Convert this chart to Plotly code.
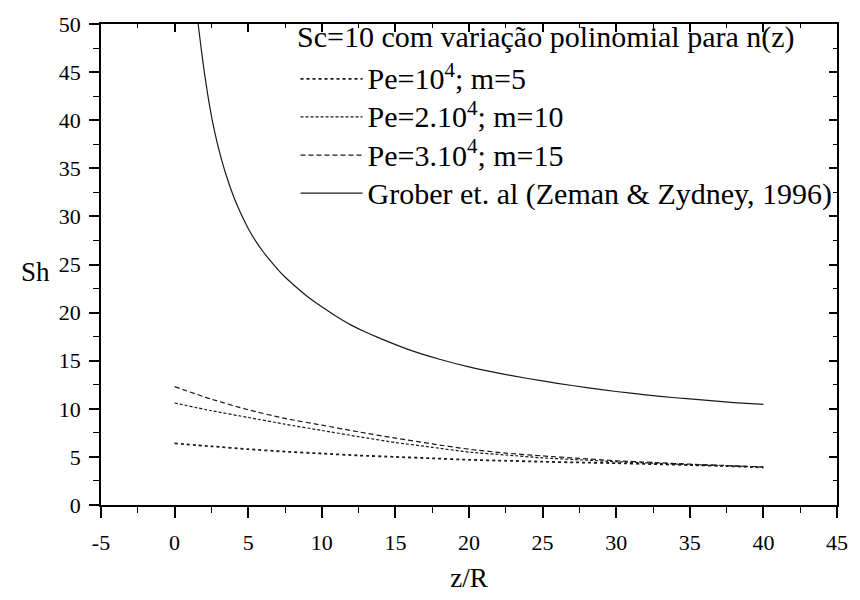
import plotly.graph_objects as go

# z/R positions and Sherwood numbers for the polynomial n(z) cases
z_poly = [0, 2.5, 5, 7.5, 10, 12.5, 15, 17.5, 20, 22.5, 25, 27.5, 30, 32.5, 35, 37.5, 40]
sh_pe1 = [6.4, 6.1, 5.8, 5.55, 5.35, 5.15, 5.0, 4.85, 4.7, 4.6, 4.5, 4.42, 4.35, 4.25, 4.15, 4.05, 3.9]
sh_pe2 = [10.6, 9.8, 9.1, 8.4, 7.75, 7.1, 6.5, 6.0, 5.5, 5.2, 4.9, 4.7, 4.5, 4.35, 4.2, 4.07, 3.95]
sh_pe3 = [12.3, 11.0, 9.9, 9.0, 8.3, 7.6, 6.95, 6.35, 5.8, 5.4, 5.1, 4.85, 4.6, 4.42, 4.25, 4.1, 3.95]

# Grober correlation (Zeman & Zydney, 1996)
z_grober = [1.6, 1.8, 2.0, 2.25, 2.5, 2.75, 3.0, 3.5, 4.0, 4.5, 5.0, 5.5, 6.0, 6.5, 7.0,
            7.5, 8, 9, 10, 11, 12, 13, 14, 16, 18, 20, 22, 24, 26, 28, 30, 32, 34, 36, 38, 40]
sh_grober = [50.0, 47.5, 45.2, 42.65, 40.45, 38.6, 37.0, 34.3, 32.1, 30.3, 28.75, 27.45,
             26.35, 25.4, 24.5, 23.7, 23.0, 21.7, 20.6, 19.6, 18.7, 17.95, 17.3, 16.1,
             15.15, 14.35, 13.7, 13.15, 12.65, 12.2, 11.8, 11.45, 11.15, 10.9, 10.65, 10.45]

x_ticks = [-5, 0, 5, 10, 15, 20, 25, 30, 35, 40, 45]
x_tick_text = ["-5", "0", "5", "10", "15", "20", "25", "30", "35", "40", "45"]

legend_title = "Sc=10 com variação polinomial para n(z)"
names = ["Pe=10<sup>4</sup>; m=5", "Pe=2.10<sup>4</sup>; m=10",
         "Pe=3.10<sup>4</sup>; m=15", "Grober et. al (Zeman &amp; Zydney, 1996)"]

FONT = "Liberation Serif, Times New Roman, serif"
INK = "#1a1a1a"
LEGEND_PX = 30

fig = go.Figure()
series = [
    (z_poly, sh_pe1, "dot", 1.8),
    (z_poly, sh_pe2, "3px,2px", 1.2),
    (z_poly, sh_pe3, "5px,3px", 1.2),
    (z_grober, sh_grober, "solid", 1.2),
]
for i, (xs, ys, dash, w) in enumerate(series):
    fig.add_trace(go.Scatter(
        x=xs, y=ys, mode="lines",
        name=f'<span style="font-size:{LEGEND_PX}px">{names[i]}</span>',
        legendgroup=f"g{i}",
        line=dict(color=INK, width=w, dash=dash, shape="spline", smoothing=0.6),
    ))

axis_common = dict(
    showgrid=False, zeroline=False, showline=True, linecolor="black", linewidth=1.8,
    tickcolor="black", tickwidth=1.6,
    tickfont=dict(family=FONT, size=22, color="black"),
)
minor_out = dict(dtick=2.5, ticks="outside", ticklen=6, tickcolor="black", tickwidth=1.4)
minor_in = dict(dtick=2.5, ticks="inside", ticklen=4, tickcolor="black", tickwidth=1.4)

fig.update_layout(
    width=860, height=600,
    paper_bgcolor="white", plot_bgcolor="white",
    margin=dict(l=101, r=13, t=20, b=80),
    font=dict(family=FONT, color="black"),
    xaxis=dict(range=[-5, 45], tickmode="array", tickvals=x_ticks, ticktext=x_tick_text,
               ticks="outside", ticklen=11, minor=minor_out, ticklabelstandoff=6,
               title=dict(text="z/R", font=dict(family=FONT, size=27), standoff=14),
               **axis_common),
    yaxis=dict(range=[0, 50], dtick=5, tick0=0, ticks="outside", ticklen=10,
               minor=minor_out, ticklabelstandoff=4, **axis_common),
    xaxis2=dict(range=[-5, 45], dtick=5, tick0=0, ticks="inside", ticklen=8, overlaying="x",
                side="top", showticklabels=False, anchor="y", minor=minor_in,
                **axis_common),
    yaxis2=dict(range=[0, 50], dtick=5, tick0=0, ticks="inside", ticklen=8, overlaying="y",
                side="right", showticklabels=False, anchor="x", minor=minor_in,
                **axis_common),
    showlegend=True,
    legend=dict(
        x=0.2643, y=0.936, xanchor="left", yanchor="top",
        bgcolor="rgba(0,0,0,0)", borderwidth=0,
        font=dict(family=FONT, size=27, color="black"),
        traceorder="grouped", tracegroupgap=0, itemwidth=62,
    ),
    annotations=[
        dict(text=legend_title, xref="paper", yref="paper", x=0.263, y=0.974,
             xanchor="left", yanchor="middle", showarrow=False,
             font=dict(family=FONT, size=LEGEND_PX, color="black")),
        dict(text="Sh", xref="paper", yref="paper", x=-0.089, y=0.485,
             xanchor="center", yanchor="middle", showarrow=False,
             font=dict(family=FONT, size=27, color="black")),
    ],
)

# an invisible trace keeps the mirrored top/right axes drawn
fig.add_trace(go.Scatter(x=[None], y=[None], xaxis="x2", yaxis="y2",
                         showlegend=False, hoverinfo="skip"))

fig.write_html("out.html")
